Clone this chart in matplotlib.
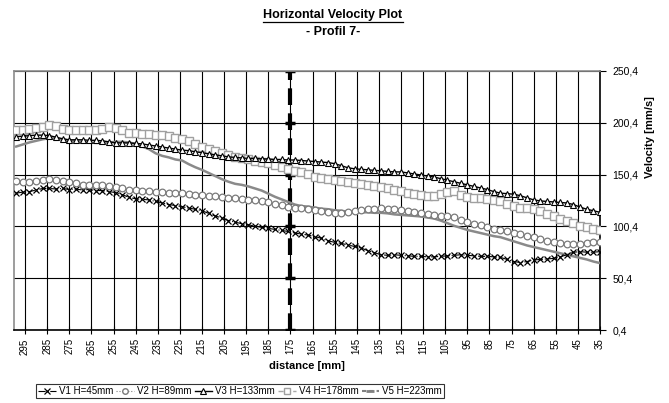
import numpy as np
import matplotlib
matplotlib.use("Agg")
import matplotlib.pyplot as plt
from matplotlib.lines import Line2D
from matplotlib.ticker import FuncFormatter

plt.rcParams['font.family'] = ['Liberation Sans', 'DejaVu Sans']

# Messpositionen [mm]
distance = np.arange(299, 34, -3)

v1 = [132.5, 133.5, 134, 135.5, 137, 137, 136.5, 137, 136, 136.5,
      135.5, 136, 135, 135, 134, 133, 131, 128.5, 127, 126.5,
      126, 124.5, 123, 121.5, 120.5, 119.5, 118, 117, 115.5, 113,
      110.5, 108.5, 106, 104.5, 103, 102, 100.5, 99.5, 98.5, 97.5,
      96.5, 95.5, 94, 93, 92, 90.5, 89, 86.5, 85, 84,
      82.5, 81, 79.5, 77, 75, 73, 72.5, 73, 72.5, 72,
      71.5, 71.5, 71, 71, 71.5, 72, 72.5, 73, 72.5, 72,
      71.5, 71.5, 71, 70.5, 68.5, 66.5, 65.5, 66.5, 68, 68.5,
      69, 69.5, 71, 73, 75.5, 76, 75.5, 75.5, 76]

v2 = [144, 143.5, 143, 144, 145.5, 146, 145.5, 144.5, 143.5, 142,
      140.5, 140.5, 140, 140, 139.5, 138.5, 137.5, 136, 135.5, 135,
      134.5, 134, 133.5, 133, 133, 132.5, 132, 131, 130.5, 130,
      129.5, 128.5, 128, 127.5, 127, 126, 125.5, 124.5, 124, 122.5,
      121, 119.5, 118.5, 118, 117, 116, 115, 114, 113.5, 113,
      114, 115, 116, 117, 117.5, 118, 117.5, 117, 116, 115,
      114, 113, 112, 111, 110.5, 110, 109, 107, 104.5, 103,
      101.5, 100, 98, 97, 95.5, 94, 93, 91.5, 90, 88,
      86.5, 85, 84, 83.5, 83, 83.5, 84, 85, 85.5]

v3 = [187, 187.5, 188, 188.5, 188.5, 188, 186.5, 185, 184, 184,
      184, 183.5, 183.5, 183, 182, 181, 181, 181, 180.5, 180,
      179, 178, 177, 176, 175, 174, 173.5, 172.5, 171.5, 170.5,
      169.5, 168.5, 167.5, 167, 166.5, 166, 166, 165.5, 165.5, 165,
      165, 164.5, 164.5, 164, 163.5, 163, 162.5, 162, 161, 159,
      157, 156, 155.5, 155, 154.5, 154, 153.5, 153, 153, 152,
      151, 150, 149, 148, 146.5, 145, 143.5, 142, 140.5, 139,
      137.5, 136, 134, 132.5, 132, 131.5, 130, 128, 126, 125,
      124.5, 124, 123.5, 123, 121.5, 119, 117, 115.5, 114]

v4 = [193.5, 193, 194, 195, 196.5, 198, 197, 194.5, 193.5, 193,
      193.5, 193.5, 193, 194, 196, 195.5, 193, 191, 190.5, 190,
      189.5, 189, 188.5, 187.5, 186, 185, 183, 180, 177.5, 175.5,
      173, 171, 169, 167, 166, 165, 164, 163, 161.5, 159.5,
      157.5, 155.5, 154, 152.5, 150.5, 148.5, 147.5, 146.5, 145.5, 144.5,
      143.5, 142.5, 141.5, 140.5, 139.5, 138.5, 137.5, 136, 134.5, 133,
      131.5, 130.5, 129.5, 129.5, 131.5, 134, 134.5, 131, 128.5, 128,
      127.5, 127, 126, 124.5, 122.5, 120, 118.5, 118, 117.5, 115,
      112, 110, 108, 106, 103.5, 101, 99.5, 98, 97]

v5 = [177.5, 179.5, 181.5, 183, 184.5, 185.5, 185, 184, 183, 182.5,
      182, 181.5, 181, 181, 181.5, 182, 182, 181.5, 180, 177.5,
      175, 171, 168.5, 167, 165, 164, 160.5, 157.5, 155, 152,
      149, 146, 143.5, 141.5, 140.5, 139, 137, 135, 132, 129,
      126.5, 124, 121.5, 120, 119.5, 118.5, 117.5, 117, 116, 115.5,
      114.5, 114, 114, 114, 113.5, 113.5, 113, 112, 111.5, 111,
      110.5, 110, 109, 108, 106, 103.5, 101, 99, 97, 95.5,
      94, 92.5, 91, 90, 88, 86, 84, 82, 80.5, 79,
      77.5, 76, 74.5, 73, 71.5, 70, 68.5, 66.5, 65]

labels = ['V1 H=45mm', 'V2 H=89mm', 'V3 H=133mm', 'V4 H=178mm', 'V5 H=223mm']

x_ticks = np.arange(295, 34, -10)
y_ticks = [0.4, 50.4, 100.4, 150.4, 200.4, 250.4]
profile_pos = 175

fig = plt.figure(figsize=(6.69, 4.03), dpi=100)
ax = fig.add_axes([14 / 669, 73 / 403, 586 / 669, 259 / 403])

# Profil-Linie
ax.plot([profile_pos] * len(y_ticks), y_ticks, color='black', lw=3,
        dashes=(4, 2), marker='_', ms=7, mew=2.5, zorder=2)

ax.plot(distance, v5, color='#8a8a8a', lw=1.8, zorder=3)
ax.plot(distance, v1, color='black', lw=0.8, ls='-.', marker='x', ms=4.5,
        mew=0.9, zorder=4)
ax.plot(distance, v2, color='#808080', lw=0.8, ls=':', marker='o', ms=4.8,
        mfc='white', mec='#7a7a7a', mew=0.9, zorder=4)
ax.plot(distance, v4, color='#a8a8a8', lw=1, ls='--', marker='s', ms=5.2,
        mfc='white', mec='#a0a0a0', mew=1, zorder=4)
ax.plot(distance, v3, color='black', lw=1, ls='-', marker='^', ms=4.5,
        mfc='white', mec='black', mew=0.8, zorder=5)

ax.set_xlim(300, 35)
ax.set_ylim(0.4, 250.4)
ax.set_xticks(x_ticks)
ax.set_xticklabels([str(t) for t in x_ticks], rotation=90, fontsize=7)
ax.set_yticks(y_ticks)
ax.yaxis.set_major_formatter(FuncFormatter(lambda v, p: f'{v:.1f}'.replace('.', ',')))
ax.yaxis.tick_right()
ax.tick_params(axis='y', labelsize=7.5, direction='out', length=4, width=0.8,
               pad=5)
ax.tick_params(axis='x', direction='inout', length=6, width=0.8, pad=3)
ax.grid(True, color='black', lw=0.8)
ax.set_axisbelow(True)

for side in ('left', 'top'):
    ax.spines[side].set_color('#8c8c8c')
    ax.spines[side].set_linewidth(1.2)
for side in ('right', 'bottom'):
    ax.spines[side].set_color('black')
    ax.spines[side].set_linewidth(1.2)

fig.text(307 / 669, 1 - 366 / 403, 'distance [mm]', fontsize=8,
         fontweight='bold', ha='center', va='center')
fig.text(650 / 669, 1 - 137 / 403, 'Velocity [mm/s]', fontsize=8,
         fontweight='bold', ha='center', va='center', rotation=90)

title = fig.text(333 / 669, 1 - 15 / 403, 'Horizontal Velocity Plot',
                 fontsize=9, fontweight='bold', ha='center', va='center')
fig.text(333 / 669, 1 - 32 / 403, '- Profil 7-', fontsize=9,
         fontweight='bold', ha='center', va='center')

# Unterstreichung des Titels
fig.canvas.draw()
bb = title.get_window_extent(fig.canvas.get_renderer())
y_ul = (bb.y0 - 1) / fig.bbox.height
fig.add_artist(Line2D([bb.x0 / fig.bbox.width, bb.x1 / fig.bbox.width],
                      [y_ul, y_ul], transform=fig.transFigure,
                      color='black', lw=0.9))

handles = [
    Line2D([], [], color='black', lw=0.8, ls='-.', marker='x', ms=4.5, mew=0.9),
    Line2D([], [], color='#808080', lw=0.8, ls=':', marker='o', ms=4,
           mfc='white', mec='#7a7a7a'),
    Line2D([], [], color='black', lw=1, marker='^', ms=4, mfc='white',
           mec='black', mew=0.8),
    Line2D([], [], color='#a8a8a8', lw=1, ls='--', marker='s', ms=4,
           mfc='white', mec='#a0a0a0'),
    Line2D([], [], color='#808080', lw=1.5, ls=(0, (2, 1.5)), marker='_',
           ms=6, mew=2),
]
leg = fig.legend(handles, labels, loc='center', ncol=5,
                 bbox_to_anchor=(240 / 669, 1 - 391 / 403), fontsize=7,
                 frameon=True, fancybox=False, edgecolor='black',
                 handlelength=1.8, handletextpad=0.3, columnspacing=0.35,
                 borderpad=0.25, borderaxespad=0)
leg.get_frame().set_linewidth(0.8)

fig.savefig('out.png', dpi=100)
